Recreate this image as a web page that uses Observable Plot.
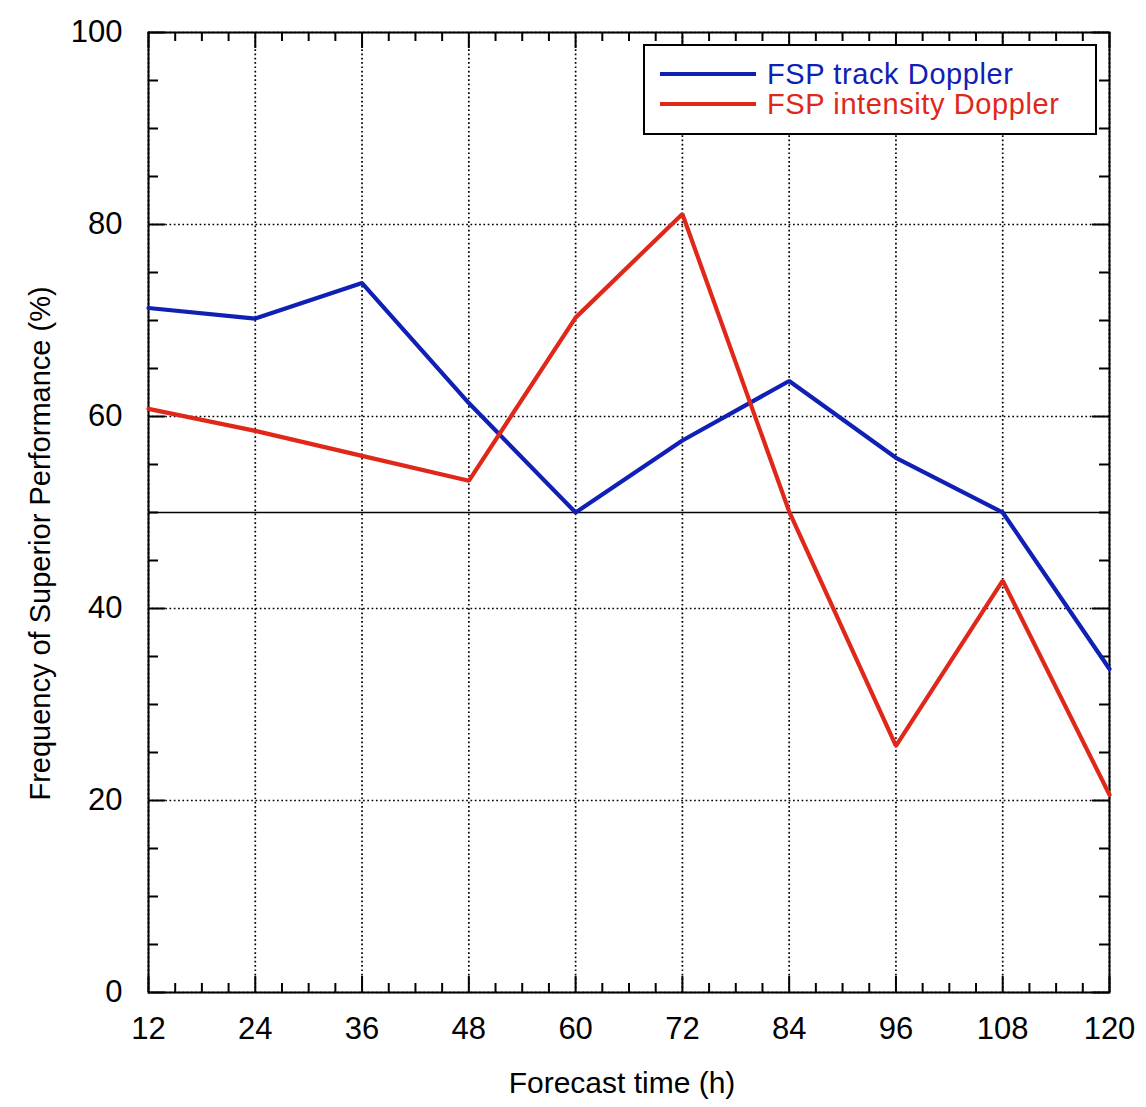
<!DOCTYPE html>
<html>
<head>
<meta charset="utf-8">
<script src="https://cdn.jsdelivr.net/npm/d3@7"></script>
<script src="https://cdn.jsdelivr.net/npm/@observablehq/plot@0.6"></script>
<style>
  html, body { margin: 0; padding: 0; background: #fff; }
  #wrap { position: relative; width: 1146px; height: 1107px; font-family: "Liberation Sans", Arial, sans-serif; }
  #legend { position: absolute; left: 643px; top: 44px; width: 450px; height: 87px; border: 2px solid #000; background: #fff; }
  .item { position: absolute; left: 15px; display: flex; align-items: center; font-size: 29px; line-height: 28px; height: 28px; letter-spacing: 0.6px; }
  .swatch { width: 96px; height: 4px; margin-right: 11px; }
</style>
</head>
<body>
<div id="wrap"></div>
<script>
// ---- data ----
const forecastHours = [12, 24, 36, 48, 60, 72, 84, 96, 108, 120];
const trackDoppler = [71.3, 70.2, 73.9, 61.4, 50.0, 57.5, 63.7, 55.7, 50.0, 33.7];
const intensityDoppler = [60.8, 58.5, 55.9, 53.3, 70.3, 81.1, 50.1, 25.7, 42.9, 20.6];
const seriesNames = ["FSP track Doppler", "FSP intensity Doppler"];
const seriesColors = ["#1020b4", "#e0281a"];
const xTicks = [12, 24, 36, 48, 60, 72, 84, 96, 108, 120];
const yTicks = [0, 20, 40, 60, 80, 100];
const xMinorTicks = [15, 18, 21, 27, 30, 33, 39, 42, 45, 51, 54, 57, 63, 66, 69, 75, 78, 81, 87, 90, 93, 99, 102, 105, 111, 114, 117];
const yMinorTicks = [5, 10, 15, 25, 30, 35, 45, 50, 55, 65, 70, 75, 85, 90, 95];
const referenceLine = [50];
const xLabel = "Forecast time (h)";
const yLabel = "Frequency of Superior Performance (%)";

const rows = [];
forecastHours.forEach((h, i) => {
  rows.push({hour: h, value: trackDoppler[i], series: seriesNames[0]});
});
forecastHours.forEach((h, i) => {
  rows.push({hour: h, value: intensityDoppler[i], series: seriesNames[1]});
});

const W = 1146, H = 1107, mL = 148, mR = 37, mT = 32, mB = 115;
const innerW = W - mL - mR, innerH = H - mT - mB;
const dotted = {stroke: "#000", strokeOpacity: 1, strokeWidth: 1.7, strokeDasharray: "1.7,2.6"};

const chart = Plot.plot({
  width: W, height: H,
  marginLeft: mL, marginRight: mR, marginTop: mT, marginBottom: mB,
  style: {fontFamily: "'Liberation Sans', Arial, sans-serif", fontSize: "31px", color: "#000", background: "#fff"},
  x: {domain: [12, 120], label: null},
  y: {domain: [0, 100], label: null},
  color: {domain: seriesNames, range: seriesColors},
  marks: [
    Plot.gridX(xTicks, dotted),
    Plot.gridY(yTicks, dotted),
    Plot.ruleY(referenceLine, {stroke: "#000", strokeWidth: 1.6}),
    // bottom & top ticks
    Plot.tickX(xTicks, {x: d => d, insetTop: innerH - 16, strokeWidth: 2}),
    Plot.tickX(xTicks, {x: d => d, insetBottom: innerH - 16, strokeWidth: 2}),
    Plot.tickX(xMinorTicks, {x: d => d, insetTop: innerH - 9, strokeWidth: 2}),
    Plot.tickX(xMinorTicks, {x: d => d, insetBottom: innerH - 9, strokeWidth: 2}),
    // left & right ticks
    Plot.tickY(yTicks, {y: d => d, insetRight: innerW - 17, strokeWidth: 2}),
    Plot.tickY(yTicks, {y: d => d, insetLeft: innerW - 17, strokeWidth: 2}),
    Plot.tickY(yMinorTicks, {y: d => d, insetRight: innerW - 10, strokeWidth: 2}),
    Plot.tickY(yMinorTicks, {y: d => d, insetLeft: innerW - 10, strokeWidth: 2}),
    Plot.frame({stroke: "#000", strokeWidth: 2}),
    Plot.line(rows, {x: "hour", y: "value", z: "series", stroke: "series", strokeWidth: 4.2, strokeLinejoin: "miter"}),
    Plot.axisX({ticks: xTicks, tickSize: 0, tickPadding: 24, fontSize: 31, label: null}),
    Plot.axisY({ticks: yTicks, tickSize: 0, tickPadding: 26, fontSize: 31, label: null}),
    Plot.text([xLabel], {frameAnchor: "bottom", dy: 91, dx: -7, fontSize: 30, lineAnchor: "middle", textAnchor: "middle"}),
    Plot.text([yLabel], {frameAnchor: "left", rotate: -90, dx: -108, dy: 31, fontSize: 29, lineAnchor: "middle", textAnchor: "middle"})
  ]
});

const wrap = document.getElementById("wrap");
wrap.appendChild(chart);

const legend = document.createElement("div");
legend.id = "legend";
seriesNames.forEach((name, i) => {
  const item = document.createElement("div");
  item.className = "item";
  item.style.top = (i === 0 ? 14 : 44) + "px";
  item.style.color = seriesColors[i];
  const sw = document.createElement("span");
  sw.className = "swatch";
  sw.style.background = seriesColors[i];
  const tx = document.createElement("span");
  tx.textContent = name;
  item.appendChild(sw);
  item.appendChild(tx);
  legend.appendChild(item);
});
wrap.appendChild(legend);
</script>
</body>
</html>
